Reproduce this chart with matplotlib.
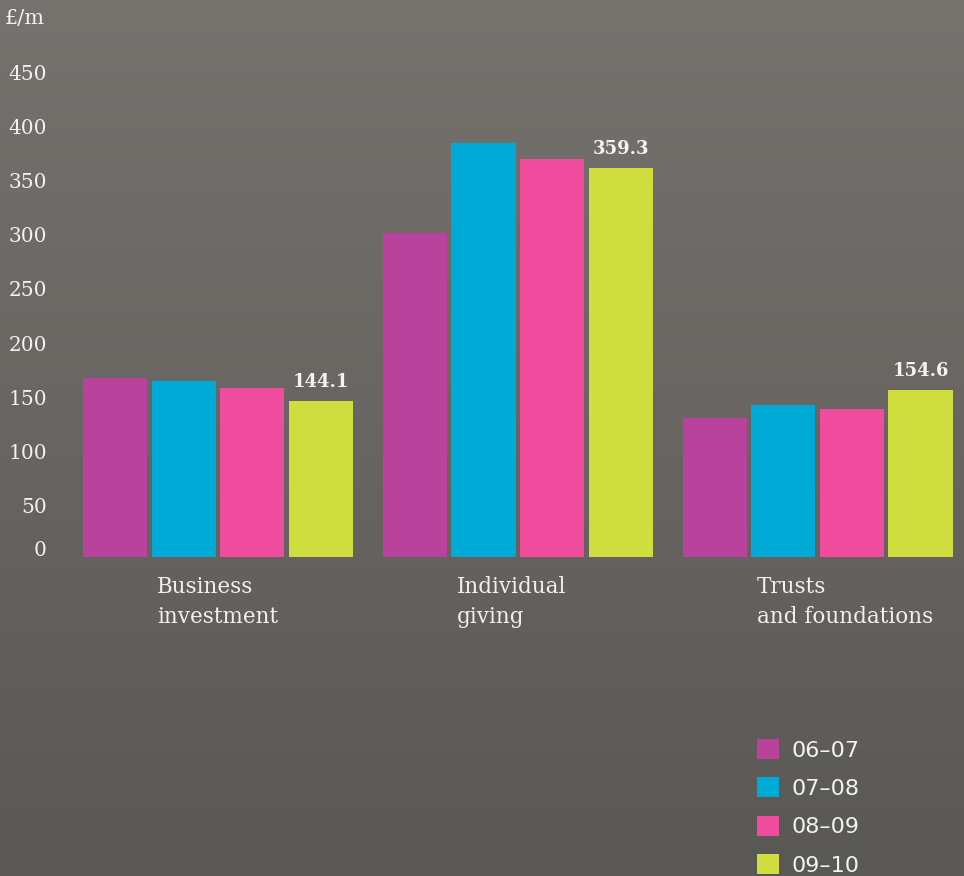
import numpy as np
import matplotlib.pyplot as plt
from matplotlib.patches import Patch
import matplotlib.transforms as mtransforms

categories = ['Business\ninvestment', 'Individual\ngiving', 'Trusts\nand foundations']
years = ['06\u201307', '07\u201308', '08\u201309', '09\u201310']
values = {
    '06\u201307': [165.0, 299.0, 128.0],
    '07\u201308': [162.5, 382.0, 140.0],
    '08\u201309': [156.0, 367.0, 137.0],
    '09\u201310': [144.1, 359.3, 154.6],
}
colors = ['#b8429c', '#00aad6', '#ef4c9d', '#cfdd3e']
yticks = [0, 50, 100, 150, 200, 250, 300, 350, 400, 450]

fig = plt.figure(figsize=(9.64, 8.76), dpi=100)

# grey card background, a little lighter at the top
bg = fig.add_axes([0, 0, 1, 1], zorder=-1)
grad = np.linspace(0, 1, 256).reshape(-1, 1)
bg.imshow(grad, aspect='auto', cmap=plt.matplotlib.colors.LinearSegmentedColormap.from_list(
    'card', ['#76726e', '#5a5855']), extent=[0, 1, 0, 1])
bg.set_axis_off()

ax = fig.add_axes([60 / 964, 0, 904 / 964, 1])
ax.patch.set_alpha(0)
ax.set_xlim(-0.527, 2.488)
ax.set_ylim(-294.0, 514.0)

x = np.arange(len(categories))
pitch = 0.2287
width = 0.214
for j, yr in enumerate(years):
    xs = x + (j - 1.5) * pitch
    ax.bar(xs, values[yr], width=width, color=colors[j], linewidth=0, zorder=2)

# value labels on the latest year
last = values[years[-1]]
for xi, v in zip(x + 1.5 * pitch, last):
    ax.annotate(f'{v:.1f}', (xi, v), xytext=(0, 7), textcoords='offset points',
                ha='center', va='bottom', fontsize=13, fontweight='bold',
                family='DejaVu Serif', color='#f4f4f4')

# category names under each group
for xi, name in zip(x, categories):
    ax.text(xi - 0.203, -17, name, ha='left', va='top', fontsize=15.5,
            family='DejaVu Serif', color='#f0f0f0', linespacing=1.5)

for s in ax.spines.values():
    s.set_visible(False)
ax.set_xticks([])
ax.set_yticks(yticks)
ax.set_yticklabels([str(t) for t in yticks], family='DejaVu Serif', fontsize=14.5, color='#f2f2f2')
ax.tick_params(axis='y', length=0, pad=9.4)
for i, lbl in enumerate(ax.get_yticklabels()):
    dy = 6 if i == 0 else -2
    lbl.set_transform(lbl.get_transform() + mtransforms.ScaledTranslation(0, dy / 72, fig.dpi_scale_trans))

fig.text(5 / 964, 1 - 18 / 876, '\u00a3/m', ha='left', va='center', fontsize=15,
         family='DejaVu Serif', color='#f2f2f2')

handles = [Patch(facecolor=c, edgecolor='none') for c in colors]
leg = fig.legend(handles, years, loc='upper left', bbox_to_anchor=(757 / 964, 1 - 739 / 876),
                 frameon=False, borderpad=0, borderaxespad=0, handlelength=1.0, handleheight=1.0,
                 labelspacing=0.76, handletextpad=0.55, prop={'family': 'DejaVu Sans', 'size': 16})
for t in leg.get_texts():
    t.set_color('#f2f2f2')

plt.savefig('out.png', dpi=100)
